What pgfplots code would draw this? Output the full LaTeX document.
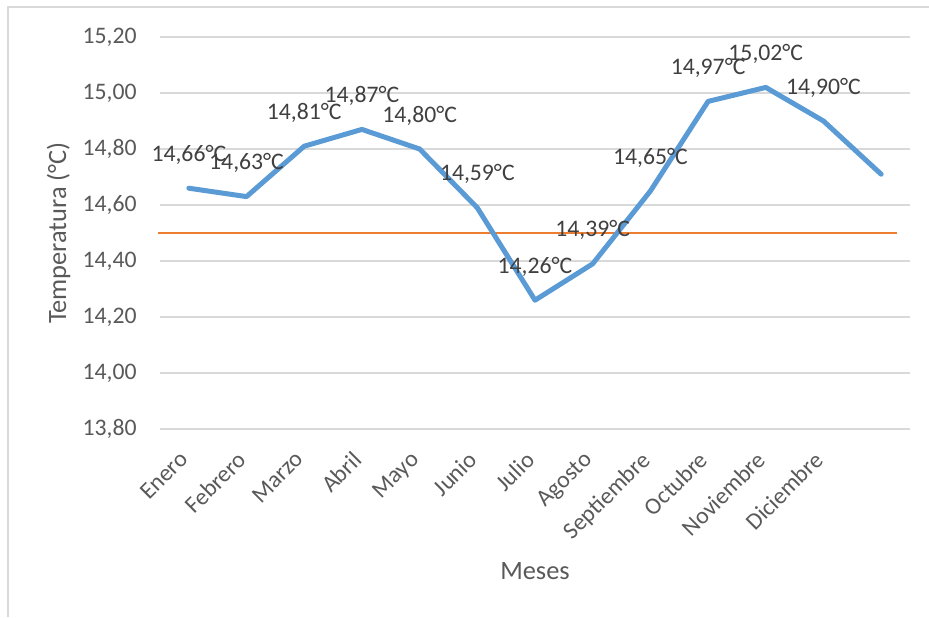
\documentclass[border=0pt]{standalone}
\usepackage{fontspec}
\setmainfont{Carlito}
\usepackage{pgfplots}
\pgfplotsset{compat=1.18}
\definecolor{serieblue}{HTML}{5B9BD5}
\definecolor{refline}{HTML}{ED7D31}
\definecolor{gridgray}{HTML}{D9D9D9}
\definecolor{ticktext}{HTML}{595959}
\definecolor{labeltext}{HTML}{404040}

\begin{document}
\begin{tikzpicture}
\begin{axis}[
  at={(0,0)}, anchor=south west,
  scale only axis,
  width=375pt, height=196pt,
  xmin=-0.5, xmax=12.5,
  ymin=13.8, ymax=15.2,
  ytick={13.8,14.0,14.2,14.4,14.6,14.8,15.0,15.2},
  xtick={0,...,11},
  xticklabels={Enero,Febrero,Marzo,Abril,Mayo,Junio,Julio,Agosto,Septiembre,Octubre,Noviembre,Diciembre},
  ymajorgrids,
  grid style={gridgray, line width=0.75pt},
  axis line style={draw=none},
  major tick length=0pt,
  clip=false,
  /pgf/number format/assume math mode=true,
  /pgf/number format/.cd, fixed, fixed zerofill, precision=2, use comma,
  /pgfplots/.cd,
  tick label style={font=\fontsize{11.85}{14}\selectfont, text=ticktext},
  yticklabel style={anchor=east, inner sep=0pt, xshift=-11.5pt},
  xticklabel style={xshift=-5.25pt, yshift=-10.25pt, rotate=45, anchor=north east, inner sep=0pt},
  every axis y label/.style={at={(axis description cs:-0.1253,0.5)}, rotate=90, anchor=base,
    font=\fontsize{13.2}{16}\selectfont, text=ticktext},
  every axis x label/.style={at={(axis description cs:0.5,-0.3827)}, anchor=base,
    font=\fontsize{13.2}{16}\selectfont, text=ticktext},
  ylabel={Temperatura (°C)},
  xlabel={Meses},
]
  % reference line at 14,50
  \addplot[refline, line width=0.75pt] coordinates {(-0.535,14.5) (12.275,14.5)};
  % monthly temperature
  \addplot[serieblue, line width=2.5pt, line join=round, line cap=round] coordinates {
    (0,14.66) (1,14.63) (2,14.81) (3,14.87) (4,14.80) (5,14.59) (6,14.26)
    (7,14.39) (8,14.65) (9,14.97) (10,15.02) (11,14.90) (12,14.71)};
  % data labels (first twelve points only)
  \addplot[draw=none, nodes near coords={\pgfmathprintnumber{\pgfplotspointmeta}°C},
    nodes near coords style={anchor=base, yshift=13.5pt, inner sep=0pt,
      font=\fontsize{11.85}{14}\selectfont, text=labeltext}] coordinates {
    (0,14.66) (1,14.63) (2,14.81) (3,14.87) (4,14.80) (5,14.59) (6,14.26)
    (7,14.39) (8,14.65) (9,14.97) (10,15.02) (11,14.90)};
\end{axis}
\draw[gridgray, line width=0.75pt] (-76pt,-94pt) -- (-76pt,211pt) -- (384.5pt,211pt);
\pgfresetboundingbox
\path[use as bounding box] (-80pt,-94pt) rectangle (384.5pt,214.5pt);
\end{tikzpicture}
\end{document}
